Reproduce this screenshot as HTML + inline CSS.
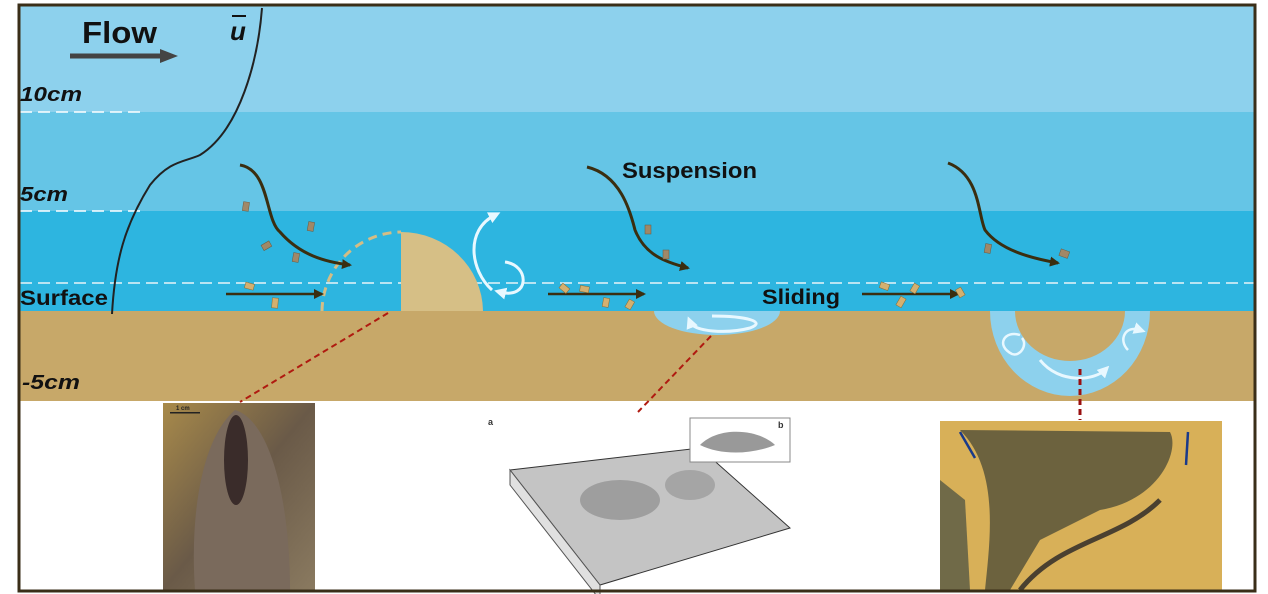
<!DOCTYPE html>
<html><head><meta charset="utf-8"><style>
html,body{margin:0;padding:0;background:#fff;width:1268px;height:594px;overflow:hidden}
svg{display:block}
text{font-family:"Liberation Sans",sans-serif;font-weight:bold}
</style></head><body>
<svg width="1268" height="594" viewBox="0 0 1268 594" xmlns="http://www.w3.org/2000/svg">
<defs>
<marker id="ah" markerWidth="10" markerHeight="10" refX="8" refY="5" orient="auto" markerUnits="userSpaceOnUse"><path d="M0,0 L10,5 L0,10z" fill="#3a2e10"/></marker>
<marker id="wh" markerWidth="12" markerHeight="12" refX="6" refY="6" orient="auto" markerUnits="userSpaceOnUse"><path d="M0,0 L12,6 L0,12z" fill="#e8f8ff"/></marker>
<linearGradient id="ph1" x1="0" y1="0" x2="1" y2="1"><stop offset="0" stop-color="#a88a4a"/><stop offset="0.5" stop-color="#6a5a48"/><stop offset="1" stop-color="#8a7a60"/></linearGradient>
</defs>
<rect x="18" y="4" width="1238" height="588" fill="#fff"/>
<rect x="19" y="5" width="1236" height="108" fill="#8dd1ed"/>
<rect x="19" y="112" width="1236" height="100" fill="#65c5e6"/>
<rect x="19" y="211" width="1236" height="101" fill="#2db5e0"/>
<rect x="19" y="311" width="1236" height="90" fill="#c7a869"/>
<line x1="20" y1="112" x2="140" y2="112" stroke="#fff" stroke-width="1.5" stroke-dasharray="12,6"/>
<line x1="20" y1="211" x2="140" y2="211" stroke="#fff" stroke-width="1.5" stroke-dasharray="12,6"/>
<line x1="20" y1="283" x2="1255" y2="283" stroke="#e8f4f8" stroke-width="1.5" stroke-dasharray="12,6"/>
<text x="82" y="43" font-size="31" fill="#111" textLength="75" lengthAdjust="spacingAndGlyphs">Flow</text>
<line x1="70" y1="56" x2="165" y2="56" stroke="#444" stroke-width="5"/>
<path d="M160,49 L178,56 L160,63z" fill="#444"/>
<text x="230" y="40" font-size="26" font-style="italic" fill="#111" font-family="Liberation Serif">u</text>
<line x1="232" y1="16" x2="246" y2="16" stroke="#111" stroke-width="2"/>
<text x="20" y="101" font-size="20" font-style="italic" fill="#111" textLength="62" lengthAdjust="spacingAndGlyphs">10cm</text>
<text x="20" y="201" font-size="20" font-style="italic" fill="#111" textLength="48" lengthAdjust="spacingAndGlyphs">5cm</text>
<text x="20" y="305" font-size="21" fill="#111" textLength="88" lengthAdjust="spacingAndGlyphs">Surface</text>
<text x="22" y="389" font-size="20" font-style="italic" fill="#111" textLength="58" lengthAdjust="spacingAndGlyphs">-5cm</text>
<text x="622" y="178" font-size="22" fill="#111" textLength="135" lengthAdjust="spacingAndGlyphs">Suspension</text>
<text x="762" y="304" font-size="21" fill="#111" textLength="78" lengthAdjust="spacingAndGlyphs">Sliding</text>
<path d="M262,8 C258,60 240,130 200,155 C185,162 170,160 150,185 C125,225 115,260 112,314" fill="none" stroke="#222" stroke-width="2"/>
<path d="M322,311 A80,80 0 0 1 401,232" fill="none" stroke="#d4bd85" stroke-width="3" stroke-dasharray="9,6"/>
<path d="M401,232 A82,80 0 0 1 483,311 L401,311z" fill="#d6bf86"/>
<path d="M492,290 C470,270 465,230 495,215" fill="none" stroke="#e8f8ff" stroke-width="3" marker-end="url(#wh)"/>
<path d="M505,262 C530,265 530,300 500,292" fill="none" stroke="#e8f8ff" stroke-width="3" marker-end="url(#wh)"/>
<path d="M240,165 C270,170 265,220 280,232 C300,255 325,262 350,265" fill="none" stroke="#3a2e10" stroke-width="3" marker-end="url(#ah)"/>
<path d="M587,167 C620,175 630,210 635,230 C645,255 665,262 688,268" fill="none" stroke="#3a2e10" stroke-width="3" marker-end="url(#ah)"/>
<path d="M948,163 C980,175 978,215 985,230 C1000,250 1030,258 1058,263" fill="none" stroke="#3a2e10" stroke-width="3" marker-end="url(#ah)"/>
<line x1="226" y1="294" x2="322" y2="294" stroke="#3a2e10" stroke-width="2.5" marker-end="url(#ah)"/>
<line x1="548" y1="294" x2="644" y2="294" stroke="#3a2e10" stroke-width="2.5" marker-end="url(#ah)"/>
<line x1="862" y1="294" x2="958" y2="294" stroke="#3a2e10" stroke-width="2.5" marker-end="url(#ah)"/>
<g fill="#a08868" stroke="#6b5a40" stroke-width="0.5">
<rect x="243" y="202" width="6" height="9" transform="rotate(8 246 206)"/>
<rect x="308" y="222" width="6" height="9" transform="rotate(10 311 226)"/>
<rect x="262" y="243" width="9" height="6" transform="rotate(-30 266 246)"/>
<rect x="293" y="253" width="6" height="9" transform="rotate(10 296 257)"/>
<rect x="645" y="225" width="6" height="9"/>
<rect x="663" y="250" width="6" height="9"/>
<rect x="985" y="244" width="6" height="9" transform="rotate(10 988 248)"/>
<rect x="1060" y="250" width="9" height="7" transform="rotate(20 1064 253)"/>
</g>
<g fill="#d4b070" stroke="#8a6a30" stroke-width="0.5">
<rect x="245" y="283" width="9" height="6" transform="rotate(15 249 286)"/>
<rect x="272" y="298" width="6" height="10" transform="rotate(5 275 303)"/>
<rect x="560" y="285" width="9" height="6" transform="rotate(40 564 288)"/>
<rect x="580" y="286" width="9" height="6" transform="rotate(10 584 289)"/>
<rect x="603" y="298" width="6" height="9" transform="rotate(10 606 302)"/>
<rect x="627" y="300" width="6" height="9" transform="rotate(30 630 304)"/>
<rect x="880" y="283" width="9" height="6" transform="rotate(20 884 286)"/>
<rect x="898" y="297" width="6" height="10" transform="rotate(30 901 302)"/>
<rect x="912" y="284" width="6" height="9" transform="rotate(30 915 288)"/>
<rect x="957" y="288" width="6" height="9" transform="rotate(-30 960 292)"/>
</g>
<path d="M654,311 L780,311 A63,24 0 0 1 654,311z" fill="#8dd1ed"/>
<path d="M712,316 C747,316 767,322 750,328 C727,334 694,332 690,322" fill="none" stroke="#e8f8ff" stroke-width="3" marker-end="url(#wh)"/>
<path d="M990,311 L1015,311 A55,50 0 0 0 1125,311 L1150,311 A80,85 0 0 1 990,311z" fill="#8dd1ed"/>
<path d="M1020,335 C1005,330 995,345 1012,354 C1020,357 1028,345 1022,338" fill="none" stroke="#e8f8ff" stroke-width="2.5"/>
<path d="M1128,350 C1118,340 1125,325 1140,330" fill="none" stroke="#e8f8ff" stroke-width="2.5" marker-end="url(#wh)"/>
<path d="M1040,360 C1060,385 1095,380 1105,370" fill="none" stroke="#e8f8ff" stroke-width="3" marker-end="url(#wh)"/>
<line x1="388" y1="313" x2="240" y2="402" stroke="#b01a10" stroke-width="2" stroke-dasharray="6,4"/>
<line x1="711" y1="336" x2="638" y2="412" stroke="#b01a10" stroke-width="2" stroke-dasharray="6,4"/>
<line x1="1080" y1="369" x2="1080" y2="420" stroke="#9a1010" stroke-width="3" stroke-dasharray="6,4"/>
<rect x="163" y="403" width="152" height="187" fill="url(#ph1)"/>
<path d="M195,590 C190,520 200,440 235,410 C270,420 290,500 290,590z" fill="#7a6a5c"/>
<ellipse cx="236" cy="460" rx="12" ry="45" fill="#3a2c2a"/>
<rect x="170" y="412" width="30" height="1.5" fill="#222"/>
<text x="176" y="410" font-size="6" font-weight="normal" fill="#222">1 cm</text>
<path d="M510,470 L700,448 L790,528 L600,585 Z" fill="#c4c4c4" stroke="#333" stroke-width="1"/>
<path d="M510,470 L510,485 L600,600 L600,585z" fill="#e0e0e0" stroke="#555"/>
<ellipse cx="620" cy="500" rx="40" ry="20" fill="#777" opacity="0.5"/>
<ellipse cx="690" cy="485" rx="25" ry="15" fill="#777" opacity="0.4"/>
<rect x="690" y="418" width="100" height="44" fill="#fff" stroke="#888"/>
<path d="M700,445 C720,425 760,430 775,445 C750,455 720,455 700,445z" fill="#999"/>
<text x="488" y="425" font-size="9" font-weight="normal" fill="#333">a</text>
<text x="778" y="428" font-size="9" font-weight="normal" fill="#333">b</text>
<rect x="940" y="421" width="282" height="169" fill="#d8b058"/>
<path d="M960,430 L1170,432 C1180,450 1160,500 1100,510 L1040,540 L1010,590 L985,590 C990,540 1000,470 960,430z" fill="#605a3c" opacity="0.9"/>
<path d="M1160,500 C1120,540 1060,540 1020,590" fill="none" stroke="#4a4030" stroke-width="5"/>
<path d="M940,480 L965,500 L970,590 L940,590z" fill="#706a48"/>
<line x1="975" y1="458" x2="960" y2="432" stroke="#1a3a8a" stroke-width="2.5"/>
<line x1="1188" y1="432" x2="1186" y2="465" stroke="#1a3a8a" stroke-width="2.5"/>
<rect x="19" y="5" width="1236" height="586" fill="none" stroke="#3a2e18" stroke-width="3"/>
</svg>
</body></html>
